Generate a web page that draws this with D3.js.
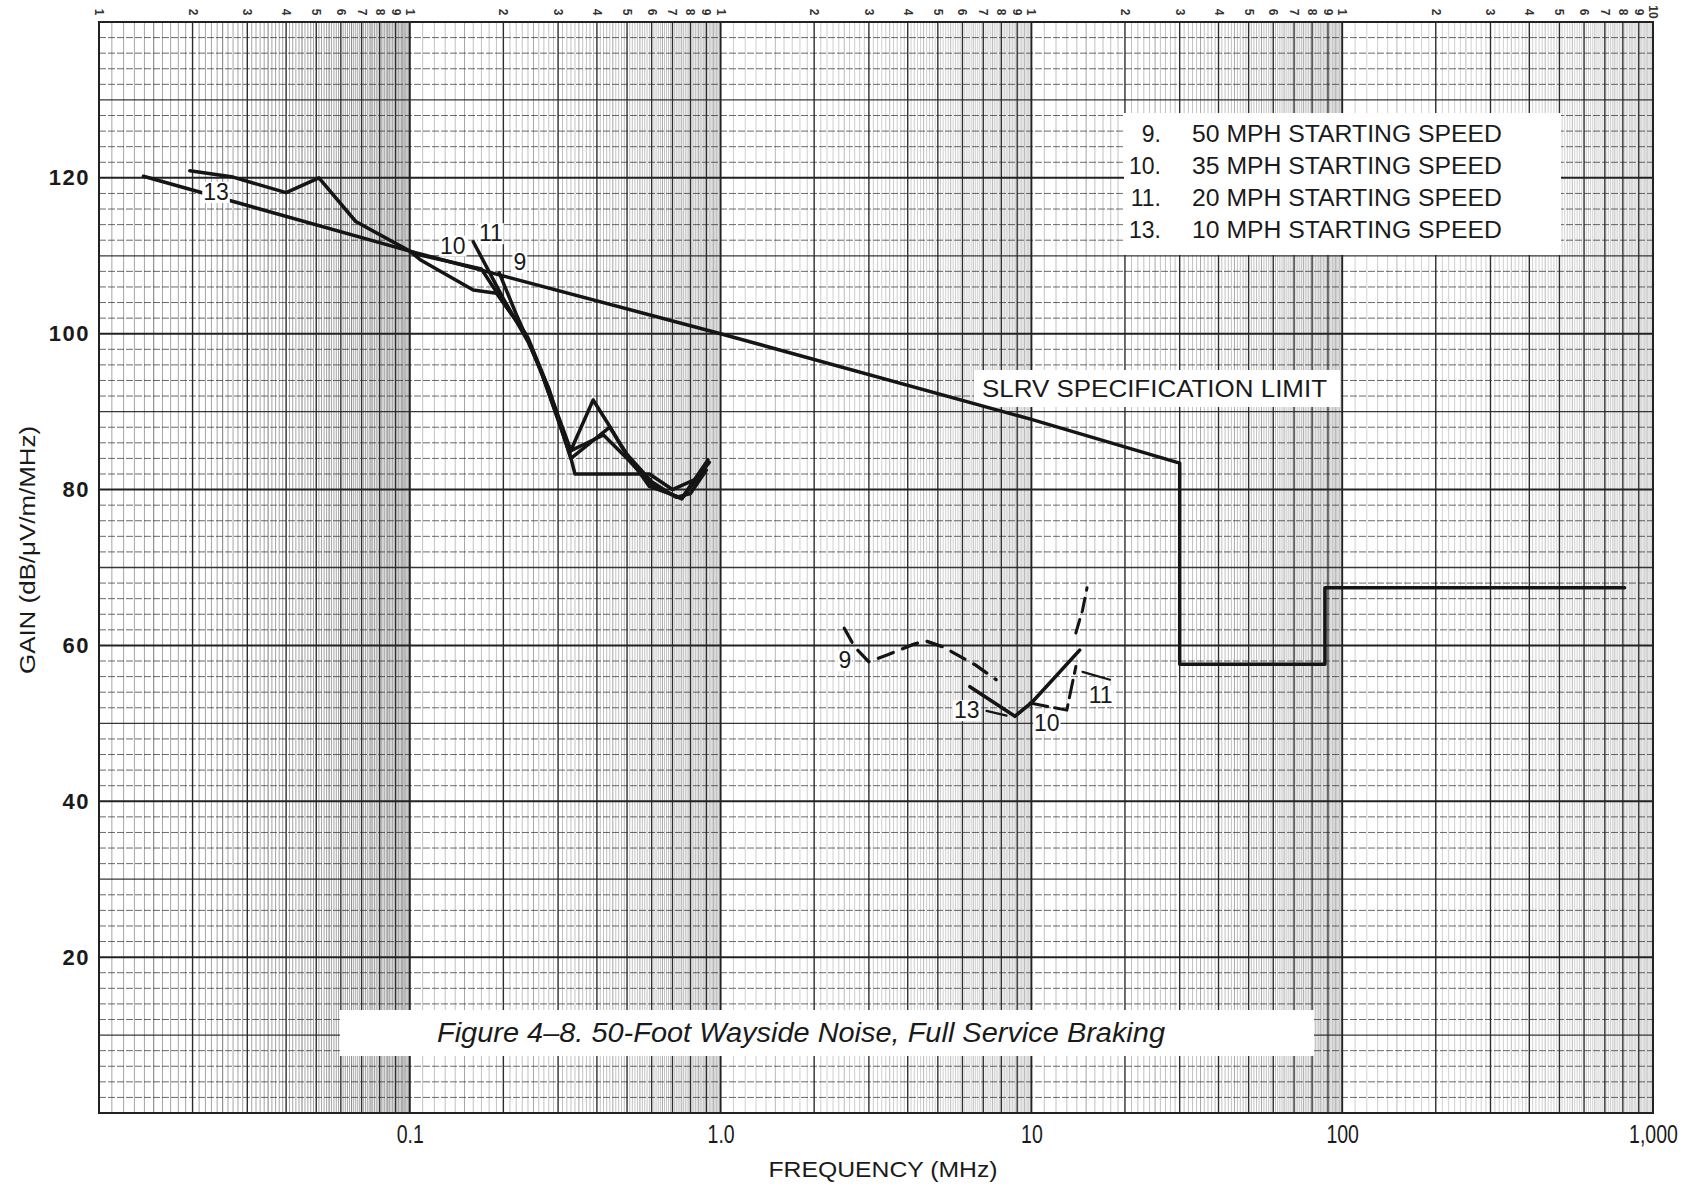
<!DOCTYPE html>
<html><head><meta charset="utf-8">
<script src="https://cdn.jsdelivr.net/npm/d3@7"></script>
<style>
body{margin:0;background:#fff;}
svg{display:block;font-family:"Liberation Sans",Arial,sans-serif;}
</style></head><body>
<svg id="c" width="1692" height="1192"></svg>
<script>
// ---------- data ----------
const xDomain = [0.01, 1000];
const yDomain = [0, 140];
const yTickValues = [20, 40, 60, 80, 100, 120];
const xTickValues = [0.1, 1, 10, 100, 1000];
const xTickLabels = ["0.1", "1.0", "10", "100", "1,000"];
const topDigits = ["1", "2", "3", "4", "5", "6", "7", "8", "9"];

// SLRV specification limit
const specFreq = [0.0139, 0.1, 1, 10, 30, 30, 88, 88, 810];
const specGain = [120.2, 110.6, 100, 89, 83.4, 57.6, 57.6, 67.4, 67.4];

// low-frequency curves
const s13Freq = [0.0196, 0.027, 0.04, 0.051, 0.067, 0.1, 0.108, 0.16, 0.19, 0.235, 0.268, 0.327, 0.389, 0.44, 0.48, 0.59, 0.75, 0.91];
const s13Gain = [120.9, 120.1, 118.1, 120.0, 114.4, 110.6, 109.5, 105.6, 105.2, 100.1, 94.5, 84.7, 91.5, 88.1, 85.5, 80.4, 78.9, 83.8];
const s10Freq = [0.1, 0.108, 0.17, 0.2, 0.24, 0.27, 0.33, 0.42, 0.5, 0.6, 0.75, 0.92];
const s10Gain = [110.6, 110.1, 108.3, 104.0, 99.5, 94.5, 85.0, 87.0, 84.0, 80.5, 78.8, 83.5];
const s11Freq = [0.16, 0.2, 0.24, 0.28, 0.33, 0.34, 0.59, 0.7, 0.85];
const s11Gain = [111.8, 104.5, 99.0, 93.0, 84.0, 82.0, 82.0, 80.0, 81.5];
const s9Freq = [0.194, 0.22, 0.26, 0.3, 0.33, 0.44, 0.5, 0.6, 0.72, 0.8, 0.9];
const s9Gain = [107.8, 102.5, 96.0, 89.0, 84.0, 88.0, 84.5, 81.0, 79.0, 79.5, 82.5];

// high-frequency curves
const h9Freq = [2.5, 2.7, 3.0, 3.45, 4.15, 4.55, 5.2, 6.6, 7.7];
const h9Gain = [62.2, 59.8, 57.9, 58.8, 60.1, 60.6, 59.8, 57.5, 55.6];
const h13Freq = [6.34, 8.85, 10.1, 14.3];
const h13Gain = [54.7, 50.9, 52.8, 59.4];
const h10Freq = [9.9, 13.0, 13.9];
const h10Gain = [52.6, 51.7, 57.3];
const h11Freq = [13.9, 14.6, 15.1];
const h11Gain = [61.6, 64.5, 67.4];
const lead13Freq = [7.17, 8.32];
const lead13Gain = [51.6, 51.0];
const lead11Freq = [14.6, 17.9];
const lead11Gain = [56.6, 55.6];

// curve labels: text, frequency, gain
const curveLabelText = ["13", "10", "11", "9", "9", "13", "10", "11"];
const curveLabelFreq = [0.0238, 0.1375, 0.1823, 0.226, 2.51, 6.2, 11.2, 16.7];
const curveLabelGain = [118.2, 111.3, 112.9, 109.2, 58.1, 51.7, 50.0, 53.6];

const legendNums = ["9.", "10.", "11.", "13."];
const legendTexts = ["50 MPH STARTING SPEED", "35 MPH STARTING SPEED", "20 MPH STARTING SPEED", "10 MPH STARTING SPEED"];

// ---------- drawing ----------
const svg = d3.select("#c");
const L = 99, R = 1653, T = 22, B = 1113;
const x = d3.scaleLog().domain(xDomain).range([L, R]);
const y = d3.scaleLinear().domain(yDomain).range([B, T]);
const ink = "#222";

svg.append("rect").attr("width", 1692).attr("height", 1192).attr("fill", "#fff");

// vertical grid
const grid = svg.append("g");
const decadeStarts = [0.01, 0.1, 1, 10, 100];
const decadeOpacity = [0.75, 0.5, 0.4, 0.5, 0.38];
decadeStarts.forEach((d, i) => {
  for (let m = 11; m < 100; m++) {
    const v = d * m / 10;
    const major = m % 10 === 0;
    const half = m % 5 === 0;
    grid.append("line")
      .attr("x1", x(v)).attr("x2", x(v)).attr("y1", B).attr("y2", T)
      .attr("stroke", ink)
      .attr("stroke-width", major ? 1.4 : (half ? 0.8 : 0.55))
      .attr("stroke-opacity", major ? 0.95 : decadeOpacity[i]);
  }
});
[0.01, 0.1, 1, 10, 100, 1000].forEach(v => {
  grid.append("line").attr("x1", x(v)).attr("x2", x(v)).attr("y1", B).attr("y2", T)
    .attr("stroke", ink).attr("stroke-width", 1.9);
});
// horizontal grid
for (let v = 2; v < 140; v += 2) {
  const h20 = v % 20 === 0, h10 = v % 10 === 0;
  grid.append("line").attr("x1", L).attr("x2", R).attr("y1", y(v)).attr("y2", y(v))
    .attr("stroke", ink)
    .attr("stroke-width", h20 ? 2 : (h10 ? 1.3 : 0.9))
    .attr("stroke-opacity", h20 ? 1 : (h10 ? 0.9 : 0.75))
    .attr("stroke-dasharray", (h20 || h10) ? null : "7,2");
}
svg.append("rect").attr("x", L).attr("y", T).attr("width", R - L).attr("height", B - T)
  .attr("fill", "none").attr("stroke", ink).attr("stroke-width", 2);

// white boxes
svg.append("rect").attr("x", 1124).attr("y", 113).attr("width", 437).attr("height", 142).attr("fill", "#fff");
svg.append("rect").attr("x", 974).attr("y", 370).attr("width", 366).attr("height", 37).attr("fill", "#fff");
svg.append("rect").attr("x", 340).attr("y", 1010).attr("width", 974).attr("height", 46).attr("fill", "#fff");

// curves
const line = d3.line().x(d => x(d[0])).y(d => y(d[1]));
const zip = (f, g) => f.map((v, i) => [v, g[i]]);
function curve(f, g, w, dash) {
  svg.append("path").attr("d", line(zip(f, g))).attr("fill", "none")
    .attr("stroke", "#151515").attr("stroke-width", w)
    .attr("stroke-linejoin", "round").attr("stroke-linecap", "round")
    .attr("stroke-dasharray", dash || null);
}
curve(specFreq, specGain, 3.5);
curve(s13Freq, s13Gain, 3.5);
curve(s10Freq, s10Gain, 3.5);
curve(s11Freq, s11Gain, 3.5);
curve(s9Freq, s9Gain, 3.5);
curve(h9Freq, h9Gain, 3.3, "16,10");
curve(h13Freq, h13Gain, 3.6);
curve(h10Freq, h10Gain, 3, "18,7");
curve(h11Freq, h11Gain, 3, "14,8");
curve(lead13Freq, lead13Gain, 2.2);
curve(lead11Freq, lead11Gain, 2.2);

// curve labels with white background
curveLabelText.forEach((t, i) => {
  const gx = svg.append("g");
  const tx = gx.append("text").attr("x", x(curveLabelFreq[i])).attr("y", y(curveLabelGain[i]))
    .attr("text-anchor", "middle").attr("dominant-baseline", "central")
    .attr("font-size", 23).attr("fill", "#1a1a1a").text(t);
  const bb = tx.node().getBBox();
  gx.insert("rect", "text").attr("x", bb.x - 1).attr("y", bb.y + 3).attr("width", bb.width + 2).attr("height", bb.height - 5)
    .attr("fill", "#fff");
});

// SLRV label
svg.append("text").attr("x", 982).attr("y", 389).attr("dominant-baseline", "central")
  .attr("font-size", 23).attr("fill", "#1a1a1a")
  .attr("textLength", 345).attr("lengthAdjust", "spacingAndGlyphs")
  .text("SLRV SPECIFICATION LIMIT");

// legend
legendNums.forEach((n, i) => {
  const cy = 134 + 32 * i;
  svg.append("text").attr("x", 1161).attr("y", cy).attr("text-anchor", "end").attr("dominant-baseline", "central")
    .attr("font-size", 23).attr("fill", "#1a1a1a").text(n);
  svg.append("text").attr("x", 1192).attr("y", cy).attr("dominant-baseline", "central")
    .attr("font-size", 23).attr("fill", "#1a1a1a")
    .attr("textLength", 310).attr("lengthAdjust", "spacingAndGlyphs").text(legendTexts[i]);
});

// caption
svg.append("text").attr("x", 437).attr("y", 1033).attr("dominant-baseline", "central")
  .attr("font-size", 27).attr("font-style", "italic").attr("fill", "#1a1a1a")
  .attr("textLength", 728).attr("lengthAdjust", "spacingAndGlyphs")
  .text("Figure 4\u20138.  50-Foot Wayside Noise, Full Service Braking");

// y axis
const yAxis = d3.axisLeft(y).tickValues(yTickValues).tickSize(0).tickPadding(8);
const ya = svg.append("g").attr("transform", `translate(${L - 1},0)`).call(yAxis);
ya.select(".domain").remove();
ya.selectAll("text").attr("font-size", 22).attr("font-weight", "bold").attr("letter-spacing", 1.5)
  .attr("fill", "#1a1a1a").attr("font-family", "Liberation Sans, Arial, sans-serif");

// x axis
const xAxis = d3.axisBottom(x).tickValues(xTickValues).tickFormat((d, i) => xTickLabels[i]).tickSize(0).tickPadding(12);
const xa = svg.append("g").attr("transform", `translate(0,${B})`).call(xAxis);
xa.select(".domain").remove();
xa.selectAll("text").attr("font-size", 25).attr("fill", "#1a1a1a").attr("font-family", "Liberation Sans, Arial, sans-serif")
  .each(function () {
    const w = this.getComputedTextLength();
    d3.select(this).attr("textLength", w * 0.78).attr("lengthAdjust", "spacingAndGlyphs");
  });

// top digit ticks (rotated log-paper cycle numbers)
const topG = svg.append("g");
decadeStarts.forEach(d => {
  topDigits.forEach((t, k) => {
    const v = d * (k + 1);
    topG.append("text").attr("transform", `translate(${x(v)},12) rotate(90)`)
      .attr("text-anchor", "middle").attr("dominant-baseline", "central")
      .attr("font-size", 12).attr("font-weight", "bold").attr("fill", "#333").text(t);
  });
});
topG.append("text").attr("transform", `translate(${x(1000)},12) rotate(90)`)
  .attr("text-anchor", "middle").attr("dominant-baseline", "central")
  .attr("font-size", 12).attr("font-weight", "bold").attr("fill", "#333").text("10");

// axis titles
svg.append("text").attr("x", 883).attr("y", 1169).attr("text-anchor", "middle").attr("dominant-baseline", "central")
  .attr("font-size", 22).attr("fill", "#1a1a1a")
  .attr("textLength", 229).attr("lengthAdjust", "spacingAndGlyphs").text("FREQUENCY (MHz)");
svg.append("text").attr("transform", "translate(27,550) rotate(-90)").attr("text-anchor", "middle").attr("dominant-baseline", "central")
  .attr("font-size", 22).attr("fill", "#1a1a1a")
  .attr("textLength", 248).attr("lengthAdjust", "spacingAndGlyphs").text("GAIN (dB/\u03BCV/m/MHz)");
</script>
</body></html>
